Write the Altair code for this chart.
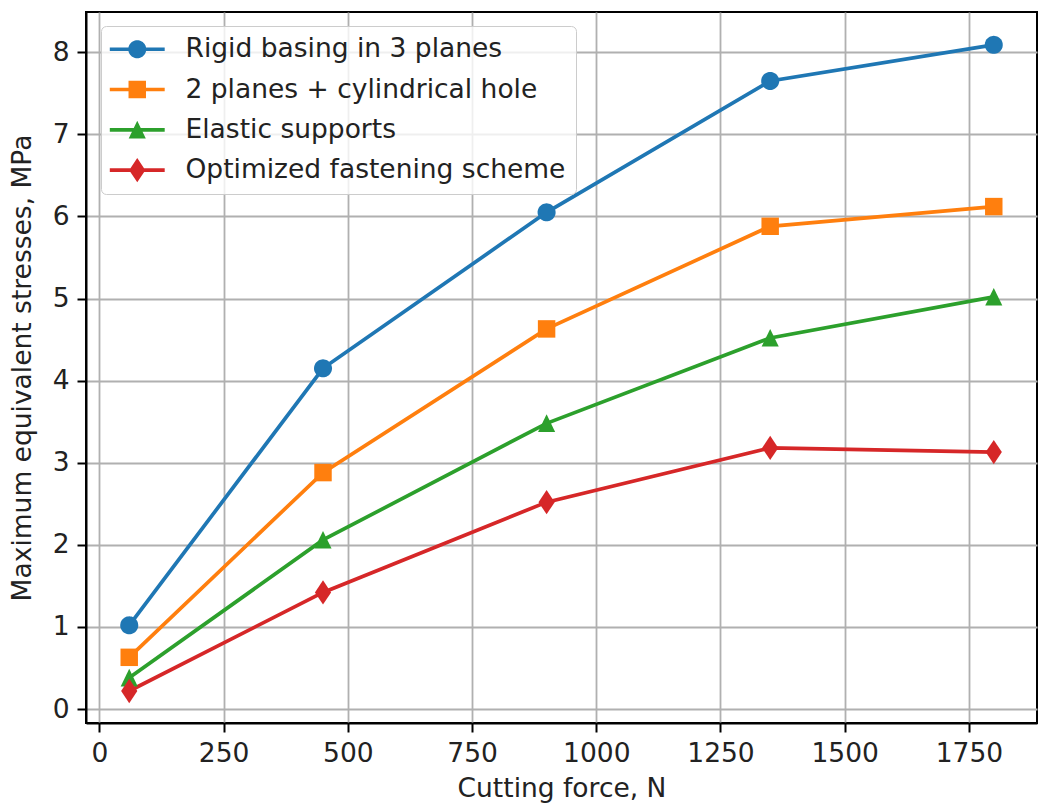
import math
import altair as alt
import pandas as pd

# ---- data ----
force = [60, 450, 900, 1350, 1800]
rigid = [1.02, 4.15, 6.05, 7.65, 8.09]
planes_hole = [0.63, 2.88, 4.63, 5.88, 6.12]
elastic = [0.38, 2.06, 3.48, 4.52, 5.02]
optimized = [0.22, 1.42, 2.52, 3.18, 3.13]
series_names = [
    "Rigid basing in 3 planes",
    "2 planes + cylindrical hole",
    "Elastic supports",
    "Optimized fastening scheme",
]
colors = ["#1f77b4", "#ff7f0e", "#2ca02c", "#d62728"]
x_ticks = [0, 250, 500, 750, 1000, 1250, 1500, 1750]
y_ticks = [0, 1, 2, 3, 4, 5, 6, 7, 8]

rows = []
for name, vals in zip(series_names, [rigid, planes_hole, elastic, optimized]):
    for f, v in zip(force, vals):
        rows.append({"series": name, "force": f, "stress": v})
df = pd.DataFrame(rows)

# ---- marker shapes (unit paths, clockwise) ----
def circle_path(r=1.0, n=48):
    pts = []
    for k in range(n):
        t = 2 * math.pi * k / n
        pts.append(f"{r*math.cos(t):.4f},{r*math.sin(t):.4f}")
    return "M" + " L".join(pts) + " Z"

square_path = "M-0.97,-0.97 L0.97,-0.97 L0.97,0.97 L-0.97,0.97 Z"
triangle_path = "M0,-1 L0.95,0.95 L-0.95,0.95 Z"
diamond_path = "M0,-1.35 L0.9,0 L0,1.35 L-0.9,0 Z"
marker_paths = [circle_path(), square_path, triangle_path, diamond_path]

line_seg = "M-3.05,-0.2 L3.05,-0.2 L3.05,0.2 L-3.05,0.2 Z"
legend_paths = [line_seg + " " + p for p in marker_paths]

FONT = "DejaVu Sans"
FS = 26.5

xscale = alt.Scale(domain=[-27, 1887], nice=False, zero=False)
yscale = alt.Scale(domain=[-0.17, 8.49], nice=False, zero=False)

x_enc = alt.X(
    "force:Q", scale=xscale,
    axis=alt.Axis(values=x_ticks, format="d", title="Cutting force, N"),
)
y_enc = alt.Y(
    "stress:Q", scale=yscale,
    axis=alt.Axis(values=y_ticks, format="d", title="Maximum equivalent stresses, MPa"),
)
color_scale = alt.Scale(domain=series_names, range=colors)

legend_style = dict(
    title=None, orient="none", legendX=15, legendY=14,
    padding=10, rowPadding=13.3, symbolSize=324, symbolOffset=13,
    labelOffset=35, labelFontSize=FS, labelFont=FONT, labelColor="#222222",
    labelLimit=800, symbolStrokeWidth=0, symbolOpacity=1,
    fillColor="rgba(255,255,255,0.8)", strokeColor="#cccccc",
    cornerRadius=5,
)

base = alt.Chart(df)

lines = base.mark_line(strokeWidth=3.7).encode(
    x=x_enc, y=y_enc,
    color=alt.Color("series:N", scale=color_scale, legend=None),
    detail="series:N",
)

points = base.mark_point(filled=True, opacity=1, size=324).encode(
    x=x_enc, y=y_enc,
    color=alt.Color("series:N", scale=color_scale, legend=None),
    shape=alt.Shape("series:N", scale=alt.Scale(domain=series_names, range=marker_paths), legend=None),
)

legend_layer = base.mark_point(filled=True, opacity=0, size=324).encode(
    x=x_enc, y=y_enc,
    color=alt.Color("series:N", scale=color_scale, legend=alt.Legend(**legend_style)),
    shape=alt.Shape(
        "series:N", scale=alt.Scale(domain=series_names, range=legend_paths),
        legend=alt.Legend(**legend_style),
    ),
)

chart = (
    alt.layer(lines, points, legend_layer)
    .resolve_scale(color="independent", shape="independent")
    .resolve_legend(color="independent", shape="independent")
    .properties(
        width=951, height=711,
        autosize=alt.AutoSizeParams(type="none"),
        padding={"left": 86, "top": 12, "right": 1, "bottom": 83},
    )
    .configure(font=FONT, background="white")
    .configure_view(stroke="black", strokeWidth=2)
    .configure_axis(
        labelFont=FONT, titleFont=FONT, labelFontSize=FS, titleFontSize=FS,
        labelColor="#222222", titleColor="#222222", titleFontWeight="normal",
        domainColor="black", domainWidth=2, tickColor="black", tickWidth=2,
        tickSize=9, labelPadding=8, gridColor="#b0b0b0", gridWidth=1.8,
        grid=True,
    )
    .configure_axisX(titlePadding=9)
    .configure_axisY(titlePadding=16)
)

chart.save("out.html", embed_options={"renderer": "svg", "actions": False})
